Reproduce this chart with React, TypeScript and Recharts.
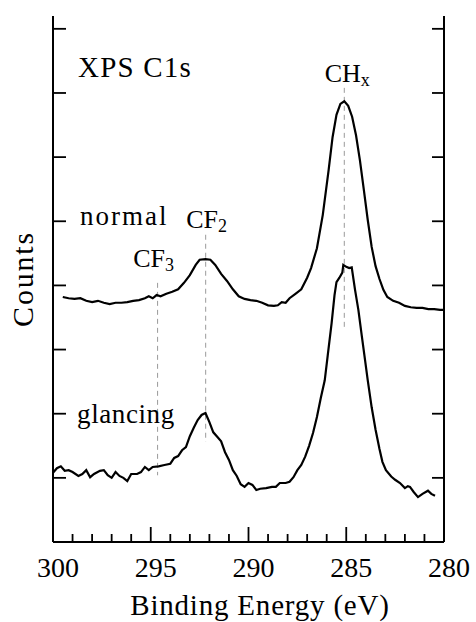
import React from 'react';
import { LineChart, Line, XAxis, YAxis, ReferenceLine, ReferenceDot } from 'recharts';

const FONT = "'Liberation Serif', Tinos, 'Times New Roman', 'DejaVu Serif', serif";

// ---- data ----
const normalEnergy = [
  299.5, 299.2, 298.9, 298.6, 298.3, 298.0, 297.7, 297.4, 297.1, 296.8, 296.5, 296.2, 295.9, 295.6,
  295.3, 295.1, 294.9, 294.7, 294.5, 294.2, 293.9, 293.6, 293.3, 293.0, 292.7, 292.5, 292.2, 291.95,
  291.7, 291.4, 291.1, 290.8, 290.5, 290.2, 289.9, 289.6, 289.3, 289.0, 288.7, 288.5, 288.3, 288.1,
  287.9, 287.6, 287.3, 287.0, 286.8, 286.5, 286.2, 285.9, 285.7, 285.5, 285.3, 285.1, 284.9, 284.7,
  284.5, 284.3, 284.1, 283.9, 283.7, 283.5, 283.3, 283.1, 282.9, 282.6, 282.3, 282.0, 281.7, 281.4,
  281.1, 280.8, 280.5, 280.2, 280.0,
];
const normalCounts = [
  3.82, 3.80, 3.79, 3.80, 3.76, 3.74, 3.76, 3.73, 3.71, 3.73, 3.73, 3.74, 3.76, 3.77,
  3.80, 3.83, 3.80, 3.85, 3.83, 3.87, 3.90, 3.94, 4.04, 4.16, 4.32, 4.40, 4.41, 4.40,
  4.32, 4.18, 4.07, 3.94, 3.83, 3.79, 3.77, 3.76, 3.73, 3.69, 3.68, 3.69, 3.74, 3.73,
  3.80, 3.87, 3.94, 4.12, 4.27, 4.58, 5.10, 5.80, 6.31, 6.66, 6.83, 6.87, 6.80, 6.63,
  6.34, 5.95, 5.49, 5.02, 4.60, 4.30, 4.10, 3.93, 3.82, 3.76, 3.73, 3.68, 3.66, 3.65,
  3.65, 3.63, 3.63, 3.62, 3.62,
];

const glancingEnergy = [
  300.0, 299.8, 299.6, 299.4, 299.2, 299.0, 298.7, 298.5, 298.3, 298.1, 297.9, 297.6, 297.4, 297.2,
  297.0, 296.8, 296.6, 296.4, 296.2, 296.0, 295.7, 295.5, 295.3, 295.1, 294.9, 294.6, 294.3, 294.0,
  293.8, 293.6, 293.4, 293.2, 293.0, 292.8, 292.6, 292.4, 292.2, 292.0, 291.8, 291.6, 291.4, 291.2,
  291.0, 290.8, 290.6, 290.4, 290.2, 290.0, 289.8, 289.6, 289.4, 289.1, 288.8, 288.6, 288.4, 288.1,
  287.9, 287.7, 287.5, 287.3, 287.1, 286.9, 286.7, 286.5, 286.3, 286.1, 285.95, 285.75, 285.6, 285.5,
  285.35, 285.2, 285.15, 285.0, 284.85, 284.72, 284.55, 284.38, 284.2, 284.04, 283.9, 283.7, 283.5,
  283.3, 283.15, 282.97, 282.7, 282.5, 282.25, 282.0, 281.85, 281.74, 281.55, 281.33, 281.1, 280.82,
  280.65, 280.46,
];
const glancingCounts = [
  1.08, 1.15, 1.18, 1.11, 1.12, 1.09, 1.03, 1.06, 1.12, 1.01, 1.06, 1.11, 1.12, 1.04,
  1.00, 1.09, 1.03, 1.00, 0.95, 1.06, 1.06, 1.09, 1.17, 1.12, 1.17, 1.18, 1.20, 1.22,
  1.31, 1.34, 1.43, 1.48, 1.65, 1.78, 1.90, 1.98, 2.01, 1.87, 1.71, 1.64, 1.57, 1.40,
  1.28, 1.12, 1.03, 0.90, 0.86, 0.92, 0.89, 0.81, 0.83, 0.84, 0.86, 0.86, 0.92, 0.92,
  0.94, 1.01, 1.12, 1.20, 1.33, 1.50, 1.70, 1.95, 2.25, 2.52, 2.90, 3.41, 3.85, 4.05,
  4.12, 4.20, 4.32, 4.29, 4.27, 4.28, 3.93, 3.62, 3.20, 2.84, 2.52, 2.10, 1.75,
  1.45, 1.25, 1.12, 1.02, 0.97, 0.92, 0.84, 0.87, 0.86, 0.78, 0.70, 0.75, 0.80,
  0.75, 0.72,
];

const energyTicks = [300, 299, 298, 297, 296, 295, 294, 293, 292, 291, 290, 289, 288, 287, 286, 285, 284, 283, 282, 281, 280];
const countTicks = [1, 2, 3, 4, 5, 6, 7, 8];

const peakNames = ['CF', 'CF', 'CH'];
const peakSubs = ['3', '2', 'x'];
const peakEnergies = [294.65, 292.19, 285.1];
const peakLineTop = [4.04, 4.79, 7.08];
const peakLineBottom = [1.04, 1.56, 3.3];

const normalData = normalEnergy.map((e, i) => ({ e, c: normalCounts[i] }));
const glancingData = glancingEnergy.map((e, i) => ({ e, c: glancingCounts[i] }));

// ---- annotation placement (data coordinates) ----
const peakLabelY = [4.29, 4.89, 7.17];
const peakLabelDx = [-4, 1, 3];
const textLabels = [
  { text: 'XPS C1s', e: 298.72, c: 7.25, size: 29, ls: 1.2 },
  { text: 'normal', e: 298.62, c: 4.94, size: 27, ls: 2 },
  { text: 'glancing', e: 298.77, c: 1.855, size: 27, ls: 0.6 },
];

const txt = (size: number, ls = 0) => ({ fontFamily: FONT, fontSize: size, letterSpacing: ls });

const BottomTick = (p: any) => {
  const { x, y, payload } = p;
  const major = payload.value % 5 === 0;
  return (
    <g>
      <line x1={x} y1={y} x2={x} y2={y - (major ? 15 : 8)} stroke="#000" strokeWidth={1.8} />
      {major && (
        <text x={x + 5} y={y + 35} textAnchor="middle" style={txt(28)} fill="#000">
          {payload.value}
        </text>
      )}
    </g>
  );
};

const TopTick = (p: any) => {
  const { x, y, payload } = p;
  const major = payload.value % 5 === 0;
  return <line x1={x} y1={y} x2={x} y2={y + (major ? 13 : 7)} stroke="#000" strokeWidth={1.8} />;
};

const LeftTick = (p: any) => {
  const { x, y } = p;
  return <line x1={x} y1={y} x2={x + 13} y2={y} stroke="#000" strokeWidth={1.8} />;
};

const RightTick = (p: any) => {
  const { x, y } = p;
  return <line x1={x} y1={y} x2={x - 12} y2={y} stroke="#000" strokeWidth={1.8} />;
};

const XTitle = (p: any) => {
  const vb = p.viewBox || { x: 53, y: 542, width: 391, height: 80 };
  return (
    <text x={vb.x + vb.width / 2 + 11.5} y={vb.y + 73} textAnchor="middle" style={txt(29, 0.8)} fill="#000">
      Binding Energy (eV)
    </text>
  );
};

const YTitle = (p: any) => {
  const vb = p.viewBox || { x: 0, y: 16, width: 53, height: 526 };
  const cx = vb.x + 33;
  const cy = vb.y + vb.height / 2;
  return (
    <text x={cx} y={cy} transform={`rotate(-90, ${cx}, ${cy})`} textAnchor="middle" style={txt(30, 1.8)} fill="#000">
      Counts
    </text>
  );
};

const makePeakLabel = (name: string, sub: string, dx: number) => (p: any) => {
  const vb = p.viewBox;
  const cx = vb.x + vb.width / 2 + dx;
  const cy = vb.y + vb.height / 2;
  return (
    <text x={cx} y={cy} textAnchor="middle" style={txt(26)} fill="#000">
      <tspan>{name}</tspan>
      <tspan style={{ fontSize: 18 }} dy={4}>{sub}</tspan>
    </text>
  );
};

const makeTextLabel = (text: string, size: number, ls: number) => (p: any) => {
  const vb = p.viewBox;
  const x = vb.x + vb.width / 2;
  const y = vb.y + vb.height / 2;
  return (
    <text x={x} y={y} textAnchor="start" style={txt(size, ls)} fill="#000">
      {text}
    </text>
  );
};

export default function App() {
  return (
    <div style={{ position: 'absolute', left: 0, top: 0, width: 476, height: 622, background: '#fff' }}>
      <LineChart width={476} height={622} margin={{ top: 16, right: 0, bottom: 0, left: 0 }}>
        <XAxis
          xAxisId="b"
          dataKey="e"
          type="number"
          domain={[280, 300]}
          reversed
          allowDataOverflow
          ticks={energyTicks}
          interval={0}
          tickSize={0}
          tickMargin={0}
          height={80}
          tickLine={false}
          axisLine={{ stroke: '#000', strokeWidth: 2 }}
          tick={<BottomTick />}
          label={<XTitle />}
        />
        <XAxis
          xAxisId="t"
          orientation="top"
          dataKey="e"
          type="number"
          domain={[280, 300]}
          reversed
          allowDataOverflow
          ticks={energyTicks}
          interval={0}
          tickSize={0}
          tickMargin={0}
          height={0}
          tickLine={false}
          axisLine={{ stroke: '#000', strokeWidth: 2 }}
          tick={<TopTick />}
        />
        <YAxis
          yAxisId="l"
          type="number"
          domain={[0, 8.2]}
          allowDataOverflow
          ticks={countTicks}
          interval={0}
          tickSize={0}
          tickMargin={0}
          width={53}
          tickLine={false}
          axisLine={{ stroke: '#000', strokeWidth: 2 }}
          tick={<LeftTick />}
          label={<YTitle />}
        />
        <YAxis
          yAxisId="r"
          orientation="right"
          type="number"
          domain={[0, 8.2]}
          allowDataOverflow
          ticks={countTicks}
          interval={0}
          tickSize={0}
          tickMargin={0}
          width={32}
          tickLine={false}
          axisLine={{ stroke: '#000', strokeWidth: 2 }}
          tick={<RightTick />}
        />
        {peakEnergies.map((e, i) => (
          <ReferenceLine
            key={'pl' + i}
            xAxisId="b"
            yAxisId="l"
            segment={[{ x: e, y: peakLineTop[i] }, { x: e, y: peakLineBottom[i] }]}
            stroke="#9a9a9a"
            strokeWidth={1}
            strokeDasharray="5 4"
          />
        ))}
        <Line
          xAxisId="b"
          yAxisId="l"
          data={normalData}
          dataKey="c"
          type="linear"
          stroke="#000"
          strokeWidth={2.2}
          dot={false}
          activeDot={false}
          isAnimationActive={false}
        />
        <Line
          xAxisId="b"
          yAxisId="l"
          data={glancingData}
          dataKey="c"
          type="linear"
          stroke="#000"
          strokeWidth={2.2}
          dot={false}
          activeDot={false}
          isAnimationActive={false}
        />
        {peakEnergies.map((e, i) => (
          <ReferenceDot
            key={'pd' + i}
            xAxisId="b"
            yAxisId="l"
            x={e}
            y={peakLabelY[i]}
            r={1}
            fill="none"
            stroke="none"
            ifOverflow="visible"
            label={makePeakLabel(peakNames[i], peakSubs[i], peakLabelDx[i])}
          />
        ))}
        {textLabels.map((t, i) => (
          <ReferenceDot
            key={'tl' + i}
            xAxisId="b"
            yAxisId="l"
            x={t.e}
            y={t.c}
            r={1}
            fill="none"
            stroke="none"
            ifOverflow="visible"
            label={makeTextLabel(t.text, t.size, t.ls)}
          />
        ))}
      </LineChart>
    </div>
  );
}
